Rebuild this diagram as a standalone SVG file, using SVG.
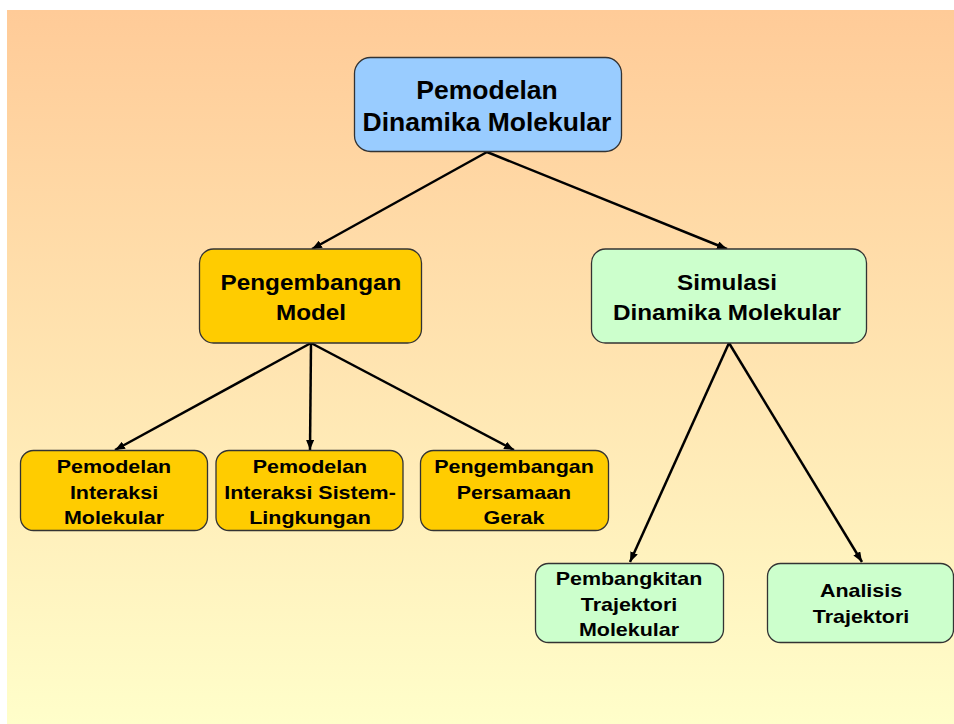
<svg xmlns="http://www.w3.org/2000/svg" width="954" height="724" viewBox="0 0 954 724">
<defs>
<linearGradient id="bg" x1="0" y1="0" x2="0" y2="1">
<stop offset="0" stop-color="#FFCB98"/>
<stop offset="1" stop-color="#FFFECA"/>
</linearGradient>
<marker id="arr" markerWidth="10" markerHeight="8" refX="10" refY="4" orient="auto" markerUnits="userSpaceOnUse">
<path d="M0,0 L10,4 L0,8 Z" fill="#000"/>
</marker>
<style>
.box{stroke:#333;stroke-width:1.3}
.blue{fill:#99CCFF}
.gold{fill:#FFCC00}
.green{fill:#CCFFCC}
text{font-family:"Liberation Sans",Arial,sans-serif;font-weight:bold;fill:#000;text-anchor:middle}
.t1{font-size:25px}
.t2{font-size:22.5px}
.t3{font-size:18.5px}
.conn line{stroke:#000;stroke-width:2.5;marker-end:url(#arr)}
</style>
</defs>
<rect x="7" y="10" width="947" height="714" fill="url(#bg)"/>
<g class="conn" id="connectors">
<line x1="487" y1="152" x2="312" y2="249"/>
<line x1="487" y1="152" x2="727" y2="249"/>
<line x1="311" y1="343" x2="115" y2="450"/>
<line x1="311" y1="343" x2="310" y2="450"/>
<line x1="311" y1="343" x2="514" y2="450"/>
<line x1="729" y1="343" x2="630" y2="562"/>
<line x1="729" y1="343" x2="862" y2="562"/>
</g>
<g id="root">
<rect class="box blue" x="354.5" y="57.5" width="267" height="94" rx="16"/>
<g transform="translate(487,0) scale(1.06,1)">
<text class="t1" x="0" y="99">Pemodelan</text>
<text class="t1" x="0" y="131">Dinamika Molekular</text>
</g>
</g>
<g id="pengembangan-model">
<rect class="box gold" x="199.5" y="249" width="222" height="94" rx="14"/>
<g transform="translate(311,0) scale(1.08,1)">
<text class="t2" x="0" y="290">Pengembangan</text>
<text class="t2" x="0" y="320">Model</text>
</g>
</g>
<g id="simulasi">
<rect class="box green" x="591.5" y="249" width="275" height="94" rx="14"/>
<g transform="translate(727,0) scale(1.08,1)">
<text class="t2" x="0" y="290">Simulasi</text>
<text class="t2" x="0" y="320">Dinamika Molekular</text>
</g>
</g>
<g id="interaksi-molekular">
<rect class="box gold" x="20.5" y="450.5" width="187" height="80" rx="13"/>
<g transform="translate(114,0) scale(1.16,1)">
<text class="t3" x="0" y="473">Pemodelan</text>
<text class="t3" x="0" y="499">Interaksi</text>
<text class="t3" x="0" y="524">Molekular</text>
</g>
</g>
<g id="interaksi-sistem">
<rect class="box gold" x="216" y="450.5" width="187" height="80" rx="13"/>
<g transform="translate(310,0) scale(1.16,1)">
<text class="t3" x="0" y="473">Pemodelan</text>
<text class="t3" x="0" y="499">Interaksi Sistem-</text>
<text class="t3" x="0" y="524">Lingkungan</text>
</g>
</g>
<g id="persamaan-gerak">
<rect class="box gold" x="420.5" y="450.5" width="188" height="80" rx="13"/>
<g transform="translate(514,0) scale(1.16,1)">
<text class="t3" x="0" y="473">Pengembangan</text>
<text class="t3" x="0" y="499">Persamaan</text>
<text class="t3" x="0" y="524">Gerak</text>
</g>
</g>
<g id="pembangkitan">
<rect class="box green" x="535.5" y="563.5" width="188" height="79" rx="13"/>
<g transform="translate(629,0) scale(1.16,1)">
<text class="t3" x="0" y="585">Pembangkitan</text>
<text class="t3" x="0" y="611">Trajektori</text>
<text class="t3" x="0" y="636">Molekular</text>
</g>
</g>
<g id="analisis">
<rect class="box green" x="767.5" y="563.5" width="186" height="79" rx="13"/>
<g transform="translate(861,0) scale(1.16,1)">
<text class="t3" x="0" y="597">Analisis</text>
<text class="t3" x="0" y="623">Trajektori</text>
</g>
</g>
</svg>
